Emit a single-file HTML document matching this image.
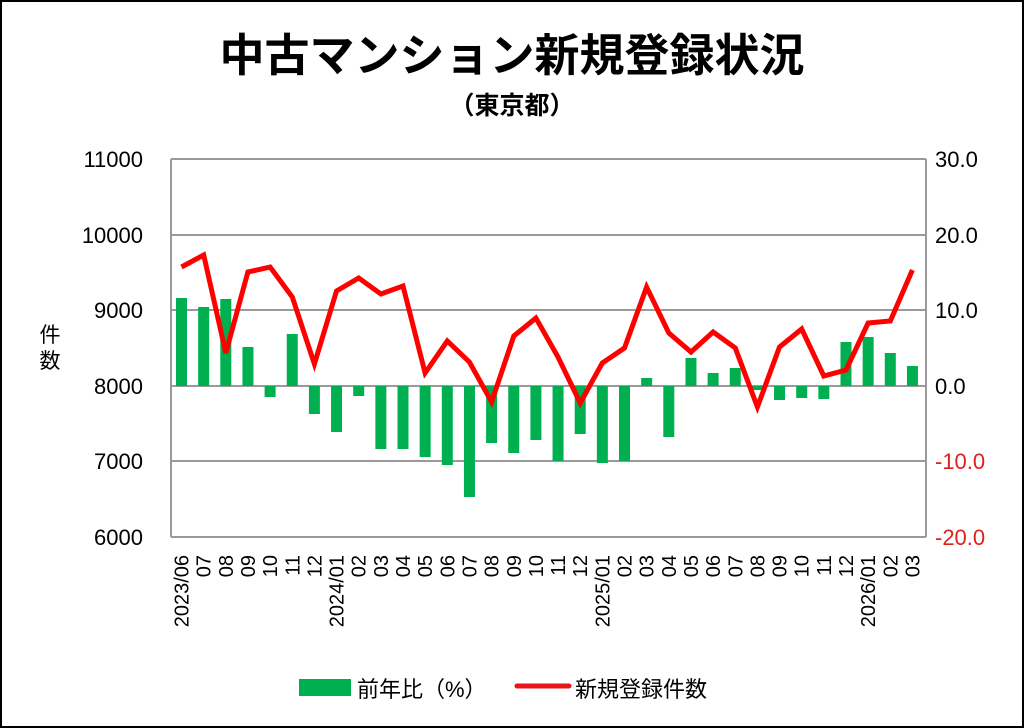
<!DOCTYPE html>
<html><head><meta charset="utf-8"><style>
html,body{margin:0;padding:0;background:#fff}
svg{display:block}
text{font-family:"Liberation Sans","Noto Sans CJK JP",sans-serif}
</style></head><body>
<svg width="1024" height="728" viewBox="0 0 1024 728" xmlns="http://www.w3.org/2000/svg">
<rect x="1" y="1" width="1022" height="726" fill="#fff" stroke="#000" stroke-width="2"/>
<text x="512" y="71" text-anchor="middle" font-size="45" font-weight="bold">中古マンション新規登録状況</text>
<text x="512" y="114" text-anchor="middle" font-size="25" font-weight="bold">（東京都）</text>
<g stroke="#9a9a9a" stroke-width="2" fill="none">
<line x1="171" y1="159" x2="926" y2="159"/>
<line x1="171" y1="235" x2="926" y2="235"/>
<line x1="171" y1="310" x2="926" y2="310"/>
<line x1="171" y1="386" x2="926" y2="386"/>
<line x1="171" y1="461" x2="926" y2="461"/>
<line x1="171" y1="537" x2="926" y2="537"/>
<line x1="171" y1="159" x2="171" y2="537"/>
<line x1="926" y1="159" x2="926" y2="537"/>
</g>
<g font-size="22" text-anchor="end">
<text x="143" y="167">11000</text>
<text x="143" y="243">10000</text>
<text x="143" y="318">9000</text>
<text x="143" y="394">8000</text>
<text x="143" y="469">7000</text>
<text x="143" y="545">6000</text>
</g>
<g font-size="22">
<text x="935" y="167">30.0</text>
<text x="935" y="243">20.0</text>
<text x="935" y="318">10.0</text>
<text x="935" y="394">0.0</text>
<text x="935" y="469" fill="#e0201b">-10.0</text>
<text x="935" y="545" fill="#e0201b">-20.0</text>
</g>
<text x="50" y="342" text-anchor="middle" font-size="21">件</text>
<text x="50" y="368" text-anchor="middle" font-size="21">数</text>
<g fill="#00b050" id="bars"></g>
<polyline id="line" fill="none" stroke="#f00" stroke-width="5" stroke-linejoin="miter" points=""/>
<g id="xl" font-size="20"></g>
<rect x="299" y="679" width="52" height="17" fill="#00b050"/>
<text x="357" y="697" font-size="22">前年比（%）</text>
<line x1="517" y1="686" x2="569" y2="686" stroke="#e8161b" stroke-width="5" stroke-linecap="round"/>
<text x="575" y="697" font-size="22">新規登録件数</text>
<script>
(function(){
var ns="http://www.w3.org/2000/svg";
var bars=[298,307,299,347,397,334,414,432,396,449,449,457,465,497,443,453,440,461,434,463,461,378,437,358,373,368,390,400,398,399,342,337,353,366];
var line=[267,255,353,272,267,297,364,291,278,294,286,373,341,362,402,336,318,357,403,363,348,287,333,352,332,348,407,347,329,376,370,323,321,270];
var labels=["2023/06","07","08","09","10","11","12","2024/01","02","03","04","05","06","07","08","09","10","11","12","2025/01","02","03","04","05","06","07","08","09","10","11","12","2026/01","02","03"];
var g=document.getElementById("bars"),xl=document.getElementById("xl"),pts=[];
for(var i=0;i<34;i++){
 var cx=181.5+22.15*i,t=bars[i],y1=Math.min(t,386),y2=Math.max(t,386);
 var r=document.createElementNS(ns,"rect");
 r.setAttribute("x",cx-5.5);r.setAttribute("y",y1);r.setAttribute("width",11);r.setAttribute("height",y2-y1);
 g.appendChild(r);
 pts.push(cx.toFixed(1)+","+line[i]);
 var tx=document.createElementNS(ns,"text");
 tx.setAttribute("x",0);tx.setAttribute("y",0);tx.setAttribute("text-anchor","end");
 tx.setAttribute("transform","translate("+(cx+7)+",555) rotate(-90)");
 tx.textContent=labels[i];xl.appendChild(tx);
}
document.getElementById("line").setAttribute("points",pts.join(" "));
})();
</script>
</svg>
</body></html>
